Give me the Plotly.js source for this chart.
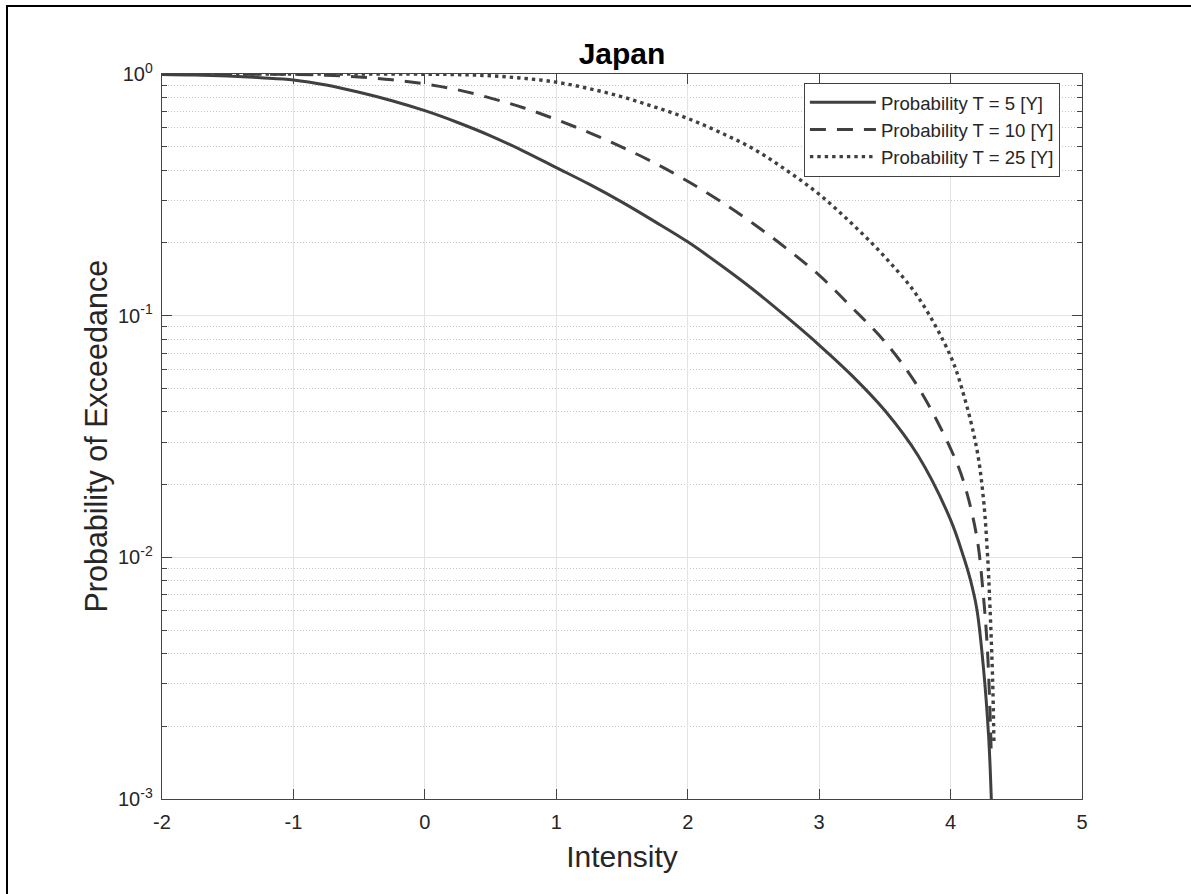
<!DOCTYPE html>
<html>
<head>
<meta charset="utf-8">
<script src="https://cdn.plot.ly/plotly-3.0.1.min.js"></script>
<style>
  html, body { margin: 0; padding: 0; background: #fff; }
  #frame { position: absolute; left: 6px; top: 5px; width: 1300px; height: 1000px;
           border-left: 2px solid #000; border-top: 2px solid #000; pointer-events: none; z-index: 5; }
  #chart { position: absolute; left: 0; top: 0; width: 1191px; height: 894px; }
</style>
</head>
<body>
<div id="chart"></div>
<div id="frame"></div>
<script>
// ---- data ----
const titleText = "Japan";
const xTitle = "Intensity";
const yTitle = "Probability of Exceedance";
const seriesNames = ["Probability T = 5 [Y]", "Probability T = 10 [Y]", "Probability T = 25 [Y]"];

const xT5 = [-2, -1.75, -1.5, -1.25, -1, -0.75, -0.5, -0.25, 0, 0.25, 0.5, 0.75, 1, 1.25, 1.5, 1.75, 2, 2.25, 2.5, 2.75, 3, 3.25, 3.5, 3.75, 4, 4.1, 4.15, 4.2, 4.25, 4.29, 4.31];
const pT5 = [0.995, 0.99, 0.98, 0.965, 0.945, 0.90, 0.84, 0.775, 0.705, 0.63, 0.555, 0.48, 0.41, 0.35, 0.295, 0.245, 0.202, 0.162, 0.128, 0.099, 0.0756, 0.0565, 0.0405, 0.0265, 0.0143, 0.0100, 0.0081, 0.0061, 0.0035, 0.0018, 0.001];

const xT10 = [-2, -1.75, -1.5, -1.25, -1, -0.75, -0.5, -0.25, 0, 0.25, 0.5, 0.75, 1, 1.25, 1.5, 1.75, 2, 2.25, 2.5, 2.75, 3, 3.25, 3.5, 3.75, 4, 4.1, 4.2, 4.25, 4.28, 4.3, 4.31];
const pT10 = [1.0, 1.0, 0.999, 0.998, 0.996, 0.988, 0.972, 0.947, 0.91, 0.86, 0.795, 0.725, 0.648, 0.572, 0.498, 0.428, 0.36, 0.297, 0.24, 0.19, 0.147, 0.108, 0.078, 0.051, 0.0282, 0.0205, 0.0121, 0.0069, 0.0042, 0.0023, 0.0015];

const xT25 = [-2, -1.5, -1, -0.5, 0, 0.25, 0.5, 0.75, 1, 1.25, 1.5, 1.75, 2, 2.25, 2.5, 2.75, 3, 3.25, 3.5, 3.75, 4, 4.1, 4.2, 4.25, 4.28, 4.3, 4.32, 4.33];
const pT25 = [1, 1, 1, 1, 0.998, 0.994, 0.983, 0.96, 0.925, 0.87, 0.805, 0.73, 0.655, 0.572, 0.49, 0.40, 0.318, 0.24, 0.175, 0.12, 0.068, 0.047, 0.028, 0.0175, 0.0105, 0.0062, 0.0031, 0.0017];

const yTickVals = [0.001, 0.01, 0.1, 1];
const yTickText = ["10<sup>-3</sup>", "10<sup>-2</sup>", "10<sup>-1</sup>", "10<sup>0</sup>"];
const yMinorVals = [];
[0.001, 0.01, 0.1].forEach(d => { for (let k = 2; k <= 9; k++) yMinorVals.push(+(d * k).toPrecision(3)); });
const xTickVals = [-2, -1, 0, 1, 2, 3, 4, 5];

// ---- styles ----
const lineColor = "#404040";
const FONT = "Liberation Sans, Arial, sans-serif";
const txtColor = "#262626";

const traces = [
  { x: xT5, y: pT5, name: seriesNames[0], mode: "lines",
    line: { color: lineColor, width: 3, dash: "solid", shape: "spline", smoothing: 1 } },
  { x: xT10, y: pT10, name: seriesNames[1], mode: "lines",
    line: { color: lineColor, width: 3, dash: "16px,11px", shape: "spline", smoothing: 1 } },
  { x: xT25, y: pT25, name: seriesNames[2], mode: "lines",
    line: { color: lineColor, width: 3.4, dash: "3.4px,4px", shape: "spline", smoothing: 1 } }
];

const layout = {
  width: 1191, height: 894,
  paper_bgcolor: "#fff", plot_bgcolor: "#fff",
  margin: { l: 162, r: 109, t: 74, b: 95, pad: 0 },
  font: { family: FONT, color: txtColor, size: 20 },
  title: { text: "<b>" + titleText + "</b>", font: { family: FONT, size: 30, color: "#000" },
           x: 0.5, xref: "paper", xanchor: "center", y: 1, yref: "paper", yanchor: "bottom", pad: { b: 10 } },
  showlegend: true,
  legend: { x: 0.976, xanchor: "right", y: 0.988, yanchor: "top",
            bgcolor: "#fff", bordercolor: "#404040", borderwidth: 1,
            font: { family: FONT, size: 18.6, color: txtColor }, itemwidth: 66, tracegroupgap: 0 },
  xaxis: {
    range: [-2, 5], tickmode: "array", tickvals: xTickVals, ticktext: xTickVals.map(String),
    ticks: "inside", ticklen: 10, tickwidth: 1, tickcolor: "#444", ticklabelstandoff: 5,
    showline: true, linecolor: "#444", linewidth: 1.3, mirror: "allticks",
    showgrid: true, gridcolor: "#e3e3e3", gridwidth: 1, zeroline: false,
    tickfont: { family: FONT, size: 20, color: txtColor },
    title: { text: xTitle, font: { family: FONT, size: 30, color: txtColor }, standoff: 13 }
  },
  yaxis: {
    type: "log", range: [-3, 0], tickmode: "array", tickvals: yTickVals, ticktext: yTickText,
    ticks: "inside", ticklen: 10, tickwidth: 1, tickcolor: "#444", ticklabelstandoff: 4,
    showline: true, linecolor: "#444", linewidth: 1.3, mirror: "allticks",
    showgrid: true, gridcolor: "#e3e3e3", gridwidth: 1, zeroline: false,
    tickfont: { family: FONT, size: 20, color: txtColor },
    minor: { tickmode: "array", tickvals: yMinorVals, ticks: "inside", ticklen: 5, tickcolor: "#444",
             showgrid: true, gridcolor: "#c4c4c4", griddash: "1px,2px", gridwidth: 1 }
  },
  annotations: [
    { text: yTitle, xref: "paper", yref: "paper", x: -0.0717, y: 0.5, xanchor: "center", yanchor: "middle",
      textangle: -90, showarrow: false, font: { family: FONT, size: 30.5, color: txtColor } }
  ]
};

Plotly.newPlot("chart", traces, layout, { displayModeBar: false, staticPlot: true });
</script>
</body>
</html>
